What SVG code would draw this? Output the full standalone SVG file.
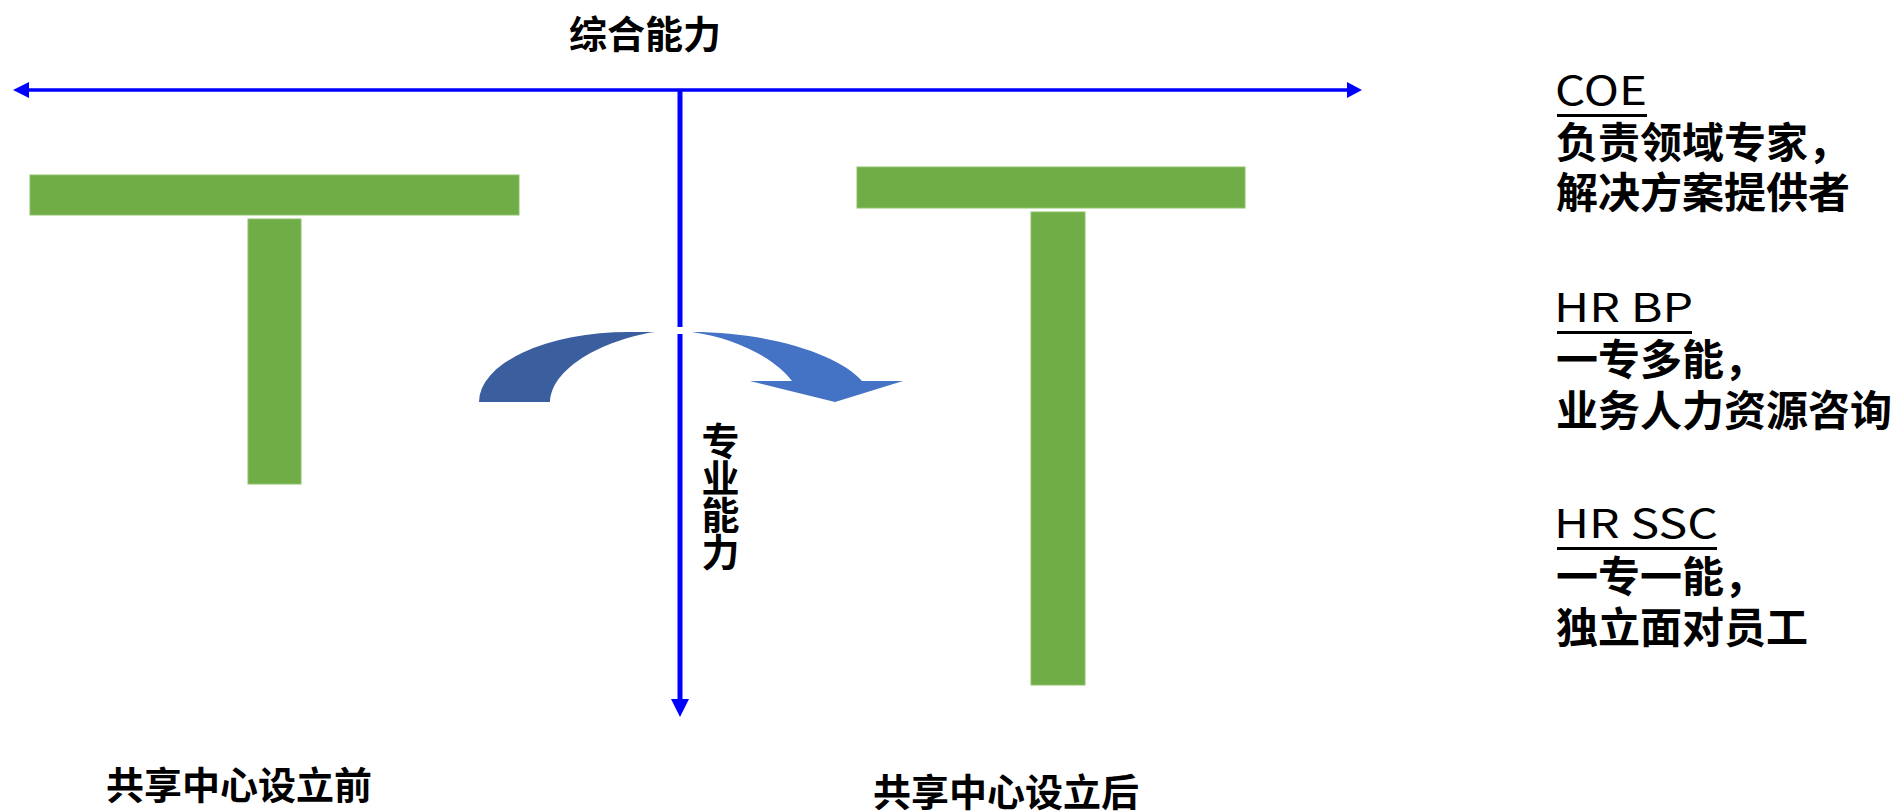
<svg xmlns="http://www.w3.org/2000/svg" width="1901" height="812" viewBox="0 0 1901 812">
<style>
.bar{fill:#70AD47;stroke:#8CC26A;stroke-width:1}
.axis{stroke:#0000FF;fill:none}
.head{fill:#0000FF}
.lbl{font-family:"Noto Sans CJK SC","Noto Sans",sans-serif;font-weight:700;font-size:38px;fill:#000}
.cjk{font-family:"Noto Sans CJK SC","Noto Sans",sans-serif;font-weight:700;font-size:42px;fill:#000}
.hd{font-family:"Noto Sans CJK SC","Noto Sans",sans-serif;font-weight:400;font-size:40px;fill:#000}
.ul{fill:#000}
</style>
<rect width="1901" height="812" fill="#FFFFFF"/>
<g id="connectors">
  <line class="axis" x1="29" y1="90" x2="1347" y2="90" stroke-width="3.5"/>
  <polygon class="head" points="13,90 29,82 29,98"/>
  <polygon class="head" points="1362,90 1347,82 1347,98"/>
  <line class="axis" x1="680" y1="90" x2="680" y2="327" stroke-width="5"/>
  <line class="axis" x1="680" y1="334" x2="680" y2="700" stroke-width="5"/>
  <polygon class="head" points="680,717 671,699 689,699"/>
</g>
<g id="curved-arrow">
  <path d="M479,402 A150,70 0 0 1 629,332 L655,332 C612,338 552,364 550,402 Z" fill="#3A5E9E"/>
  <path d="M692,332 C770,332 840,355 862,381 L903,381 L835,402 L750,381 L792,381 C775,358 735,338 692,332 Z" fill="#4472C4"/>
</g>
<g id="t-before">
  <rect class="bar" x="30" y="175" width="489" height="40"/>
  <rect class="bar" x="248" y="219" width="53" height="265"/>
</g>
<g id="t-after">
  <rect class="bar" x="857" y="167" width="388" height="41"/>
  <rect class="bar" x="1031" y="212" width="54" height="473"/>
</g>
<g id="label-x">
  <text class="lbl" x="569" y="48">综合能力</text>
</g>
<g id="label-y">
  <text class="lbl" text-anchor="middle"><tspan x="720.5" y="455">专</tspan><tspan x="720.5" y="492">业</tspan><tspan x="720.5" y="529">能</tspan><tspan x="720.5" y="566">力</tspan></text>
</g>
<g id="label-before">
  <text class="lbl" x="106" y="799">共享中心设立前</text>
</g>
<g id="label-after">
  <text class="lbl" x="873" y="806">共享中心设立后</text>
</g>
<g id="coe">
  <text class="hd" x="1555" y="105" textLength="92" lengthAdjust="spacingAndGlyphs">COE</text>
  <rect class="ul" x="1557" y="114" width="90" height="3"/>
  <text class="cjk" x="1556" y="158">负责领域专家，</text>
  <text class="cjk" x="1556" y="208">解决方案提供者</text>
</g>
<g id="hrbp">
  <text class="hd" x="1554" y="322" textLength="139" lengthAdjust="spacingAndGlyphs">HR BP</text>
  <rect class="ul" x="1557" y="331" width="135" height="3"/>
  <text class="cjk" x="1556" y="375">一专多能，</text>
  <text class="cjk" x="1556" y="426">业务人力资源咨询</text>
</g>
<g id="hrssc">
  <text class="hd" x="1554" y="538" textLength="164" lengthAdjust="spacingAndGlyphs">HR SSC</text>
  <rect class="ul" x="1557" y="547" width="160" height="3"/>
  <text class="cjk" x="1556" y="592">一专一能，</text>
  <text class="cjk" x="1556" y="643">独立面对员工</text>
</g>
</svg>
